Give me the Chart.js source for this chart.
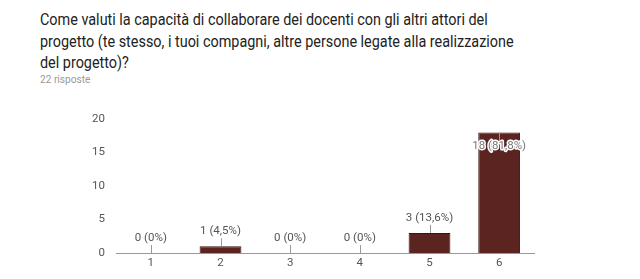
<!DOCTYPE html>
<html>
<head>
<meta charset="utf-8">
<script src="https://cdn.jsdelivr.net/npm/chart.js@4"></script>
<style>
  html, body { margin: 0; padding: 0; background: #fff; width: 640px; height: 279px; overflow: hidden; }
  #title { position: absolute; left: 40px; top: 9px; white-space: nowrap; font-family: Roboto, Arial, sans-serif; font-size: 16px; line-height: 21.5px; color: #222; transform: scaleX(0.9); transform-origin: 0 0; }
  #sub { position: absolute; left: 40px; top: 73px; font-family: Roboto, Arial, sans-serif; font-size: 11px; color: #999; transform: scaleX(0.92); transform-origin: 0 0; }
  #wrap { position: absolute; left: 0; top: 0; width: 640px; height: 279px; }
</style>
</head>
<body>
<div id="title">Come valuti la capacità di collaborare dei docenti con gli altri attori del<br>progetto (te stesso, i tuoi compagni, altre persone legate alla realizzazione<br>del progetto)?</div>
<div id="sub">22 risposte</div>
<div id="wrap"><canvas id="c" width="640" height="279"></canvas></div>
<script>
const categories = ['1', '2', '3', '4', '5', '6'];
const counts = [0, 1, 0, 0, 3, 18];
const percentLabels = ['0%', '4,5%', '0%', '0%', '13,6%', '81,8%'];
const yTicks = [0, 5, 10, 15, 20];

const annot = {
  id: 'annot',
  afterDatasetsDraw(chart) {
    const ctx = chart.ctx;
    const meta = chart.getDatasetMeta(0);
    const area = chart.chartArea;
    ctx.save();
    ctx.font = '11.5px Roboto, Arial, sans-serif';
    ctx.textAlign = 'center';
    meta.data.forEach((bar, i) => {
      const txt = counts[i] + ' (' + percentLabels[i] + ')';
      const x = bar.x, top = bar.y;
      const stem = 8;
      ctx.strokeStyle = '#999';
      ctx.lineWidth = 1;
      if (top - stem - 14 < area.top) {
        ctx.beginPath();
        ctx.moveTo(Math.round(x) + 0.5, top);
        ctx.lineTo(Math.round(x) + 0.5, top + stem);
        ctx.stroke();
        ctx.textBaseline = 'top';
        ctx.lineWidth = 3;
        ctx.strokeStyle = '#fff';
        ctx.lineJoin = 'round';
        ctx.strokeText(txt, x, top + stem);
        ctx.fillStyle = '#777';
        ctx.fillText(txt, x, top + stem);
      } else {
        ctx.beginPath();
        ctx.moveTo(Math.round(x) + 0.5, top);
        ctx.lineTo(Math.round(x) + 0.5, top - stem);
        ctx.stroke();
        ctx.textBaseline = 'bottom';
        ctx.fillStyle = '#555';
        ctx.fillText(txt, x, top - stem - 1);
      }
    });
    ctx.restore();
  }
};

new Chart(document.getElementById('c'), {
  type: 'bar',
  data: {
    labels: categories,
    datasets: [{
      data: counts,
      backgroundColor: '#5b2420',
      borderColor: '#3a1410',
      borderWidth: 1,
      borderSkipped: 'bottom',
      categoryPercentage: 1,
      barPercentage: 0.6
    }]
  },
  options: {
    responsive: false,
    animation: false,
    devicePixelRatio: 1,
    layout: { padding: { top: 119, right: 106, bottom: 0, left: 0 } },
    plugins: { legend: { display: false }, tooltip: { enabled: false } },
    scales: {
      x: {
        grid: { display: false, drawTicks: false },
        border: { display: true, color: '#999', width: 1 },
        ticks: { color: '#555', font: { family: 'Roboto, Arial, sans-serif', size: 11.5 }, padding: 3 },
        afterFit(s) { s.height = 26; }
      },
      y: {
        min: 0, max: 20,
        afterBuildTicks(s) { s.ticks = yTicks.map(v => ({ value: v })); },
        grid: { display: false, drawTicks: false },
        border: { display: false },
        ticks: { color: '#555', font: { family: 'Roboto, Arial, sans-serif', size: 11.5 }, padding: 11 },
        afterFit(s) { s.width = 116; }
      }
    }
  },
  plugins: [annot]
});
</script>
</body>
</html>
